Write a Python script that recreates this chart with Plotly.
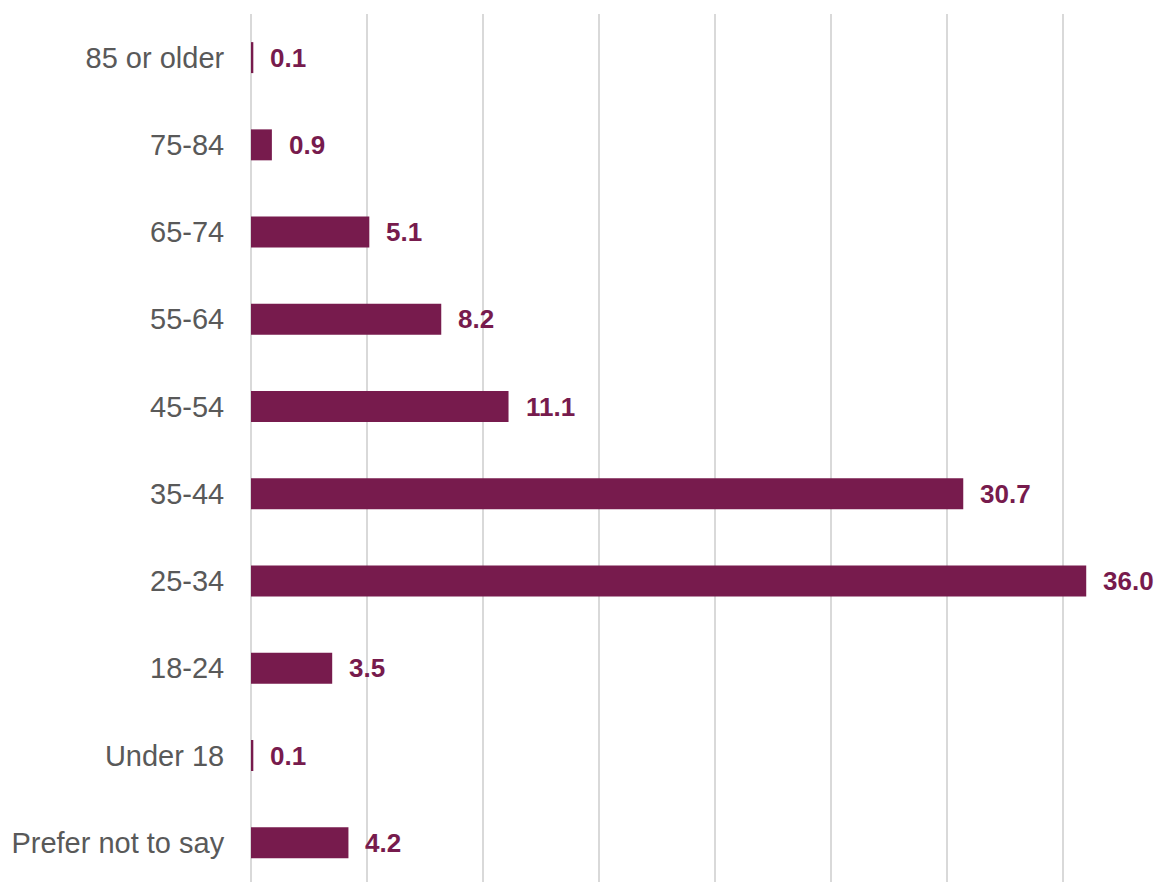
import plotly.graph_objects as go

categories = ["Prefer not to say", "Under 18", "18-24", "25-34", "35-44",
              "45-54", "55-64", "65-74", "75-84", "85 or older"]
values = [4.2, 0.1, 3.5, 36.0, 30.7, 11.1, 8.2, 5.1, 0.9, 0.1]
labels = ["4.2", "0.1", "3.5", "36.0", "30.7", "11.1", "8.2", "5.1", "0.9", "0.1"]

BAR = "#771B4D"
FONT = "Arial, Liberation Sans, sans-serif"

fig = go.Figure(go.Bar(
    x=values, y=categories, orientation="h",
    marker=dict(color=BAR, line=dict(width=0)),
    width=0.355,
    hoverinfo="skip",
))

for c, v, t in zip(categories, values, labels):
    fig.add_annotation(x=v, y=c, text=f"<b>{t}</b>", showarrow=False,
                       xanchor="left", yanchor="middle", xshift=15,
                       font=dict(family=FONT, size=26, color=BAR))

fig.update_layout(
    width=1173, height=882,
    margin=dict(l=251, r=0, t=14, b=0),
    paper_bgcolor="white", plot_bgcolor="white",
    showlegend=False,
    font=dict(family=FONT),
    xaxis=dict(range=[0, 39.74], dtick=5, tick0=0, showgrid=True,
               gridcolor="#D9D9D9", gridwidth=2, zeroline=True,
               zerolinecolor="#D9D9D9", zerolinewidth=2,
               showticklabels=False, ticks=""),
    yaxis=dict(type="category", categoryorder="array", categoryarray=categories,
               range=[-0.45, 9.5], showgrid=False, zeroline=False,
               ticks="outside", ticklen=20, tickcolor="rgba(0,0,0,0)",
               tickfont=dict(family=FONT, size=29, color="#595959")),
)

fig.write_html("out.html")
